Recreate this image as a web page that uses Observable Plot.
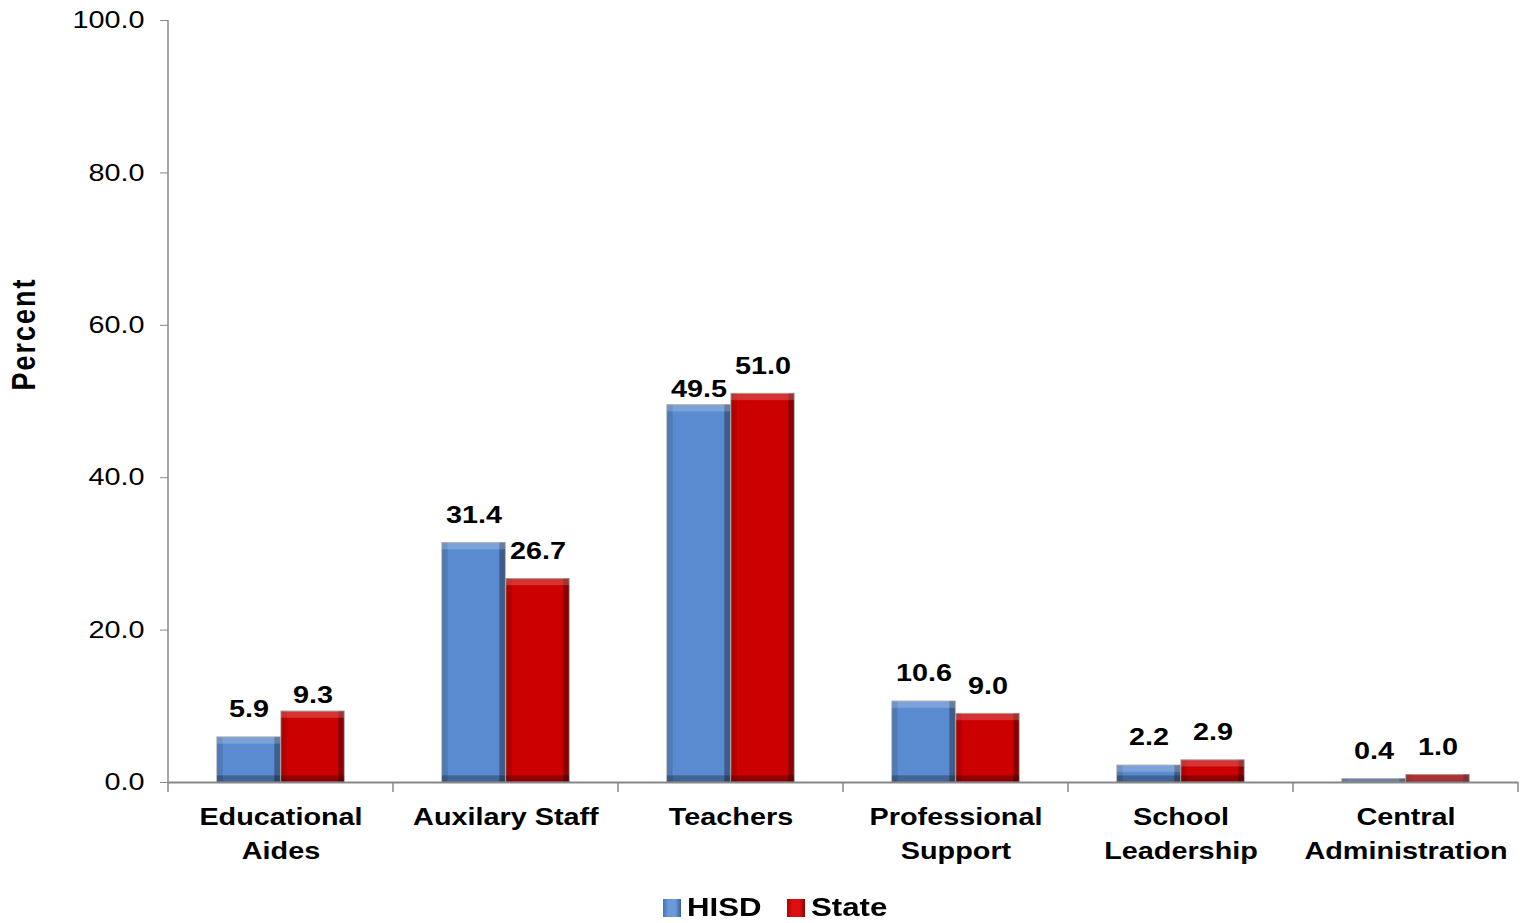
<!DOCTYPE html>
<html><head><meta charset="utf-8">
<script src="https://cdn.jsdelivr.net/npm/d3@7"></script>
<script src="https://cdn.jsdelivr.net/npm/@observablehq/plot@0.6"></script>
<style>
body{margin:0;background:#fff;font-family:"Liberation Sans",Arial,sans-serif;}
#legend{display:flex;justify-content:center;align-items:center;gap:25px;font-weight:bold;font-size:26px;height:31px;padding-left:23px;color:#000;}
#legend .item{display:flex;align-items:center;gap:6px;}
#legend .sw{width:18px;height:18px;display:inline-block;box-sizing:border-box;}
#legend .lbl{display:inline-block;transform-origin:0 50%;}
</style></head>
<body><div id="chart"></div><div id="legend"></div>
<script>
const categories = ["Educational\nAides","Auxilary Staff","Teachers","Professional\nSupport","School\nLeadership","Central\nAdministration"];
const series = ["HISD","State"];
const hisd = [5.9,31.4,49.5,10.6,2.2,0.4];
const state = [9.3,26.7,51.0,9.0,2.9,1.0];
const yTicks = [0,20,40,60,80,100];
const seriesColors = ["#5a8bd0","#cc0000"];
// labels that sit lower, close to their bar top, in the original
const nudged = ["Educational\nAides|State","Teachers|HISD"];

const data = categories.flatMap((c,i)=>[
  {category:c, series:"HISD", value:hisd[i]},
  {category:c, series:"State", value:state[i]}
]);
const isNudged = d => nudged.includes(d.category+"|"+d.series);
const fmt = d3.format(".1f");
const font = "'Liberation Sans', Arial, sans-serif";
const WIDE = 1.2; // the original lettering is horizontally stretched

const chart = Plot.plot({
  width:1527, height:892,
  marginLeft:168, marginRight:9, marginTop:20, marginBottom:110,
  style:{fontFamily:font, fontSize:"24px", color:"#000", background:"#fff", overflow:"visible"},
  fx:{domain:categories, padding:0, label:null},
  x:{domain:series, paddingInner:0.02, paddingOuter:0.76, axis:null},
  y:{domain:[0,100], label:null},
  color:{type:"ordinal", domain:series, range:seriesColors},
  marks:[
    Plot.axisY({ticks:yTicks, tickFormat:fmt, tickSize:8, tickPadding:16, fontSize:24, stroke:"#888", fill:"#000", label:null}),
    Plot.axisFx({anchor:"bottom", tickSize:0, tickPadding:18, fontSize:24, fontWeight:"bold", lineHeight:1.42, label:null, fill:"#000"}),
    Plot.barY(data, {fx:"category", x:"series", y:"value", fill:"series", stroke:"#9a9a9a", strokeWidth:1, strokeOpacity:0.7}),
    Plot.ruleY([0], {stroke:"#888", strokeWidth:1.8}),
    Plot.text(data.filter(d=>!isNudged(d)), {fx:"category", x:"series", y:"value", text:d=>fmt(d.value), dy:-28, fontSize:24, fontWeight:"bold", fill:"#000"}),
    Plot.text(data.filter(isNudged), {fx:"category", x:"series", y:"value", text:d=>fmt(d.value), dy:-16, fontSize:24, fontWeight:"bold", fill:"#000"})
  ]
});

const svg = d3.select(chart);

// bevel filter for the bars
const defs = svg.insert("defs", ":first-child");
const f = defs.append("filter").attr("id","bevel").attr("x","-5%").attr("y","-5%").attr("width","110%").attr("height","110%")
  .attr("color-interpolation-filters","sRGB");
function band(name, dx, dy){
  f.append("feOffset").attr("in","SourceAlpha").attr("dx",dx).attr("dy",dy).attr("result",name+"S");
  f.append("feComposite").attr("in","SourceAlpha").attr("in2",name+"S").attr("operator","out").attr("result",name);
}
band("top",0,7); band("bottom",0,-7); band("right",-6,0); band("left",6,0);
function tint(name, color, op){
  f.append("feFlood").attr("flood-color",color).attr("flood-opacity",op).attr("result",name+"F");
  f.append("feComposite").attr("in",name+"F").attr("in2",name).attr("operator","in").attr("result",name+"C");
}
tint("left","#000",0.12); tint("right","#000",0.32); tint("bottom","#000",0.28); tint("top","#fff",0.2);
const m = f.append("feMerge");
["SourceGraphic","leftC","rightC","bottomC","topC"].forEach(n=>m.append("feMergeNode").attr("in",n));
svg.selectAll("g[aria-label='bar'] rect").attr("filter","url(#bevel)");

// axis lines and category boundary ticks
const fx = chart.scale("fx");
const y = chart.scale("y");
const bw = fx.bandwidth;
const x0 = fx.apply(categories[0]);
const y0 = y.apply(0), yTop = y.apply(100);
const extra = svg.append("g").attr("stroke","#888").attr("stroke-width",1.5);
extra.append("line").attr("x1",x0).attr("x2",x0).attr("y1",yTop).attr("y2",y0+10);
categories.forEach(c=>{
  const xr = fx.apply(c)+bw;
  extra.append("line").attr("x1",xr).attr("x2",xr).attr("y1",y0).attr("y2",y0+10);
});
svg.append("text").attr("class","ylabel").attr("transform",`translate(26,${y.apply(58.8)}) rotate(-90)`)
  .attr("text-anchor","middle").attr("dominant-baseline","middle").attr("font-weight","bold").attr("font-size",27)
  .attr("letter-spacing",2).attr("font-family",font).attr("fill","#000").text("Percent");

document.getElementById("chart").appendChild(chart);

// stretch text horizontally about its anchor
function stretch(sel, s){
  sel.each(function(){
    const b = this.getBBox();
    const anchor = getComputedStyle(this).textAnchor;
    const cx = anchor === "end" ? b.x + b.width : anchor === "middle" ? b.x + b.width/2 : b.x;
    const t = this.getAttribute("transform") || "";
    this.setAttribute("transform", `${t} translate(${cx},0) scale(${s},1) translate(${-cx},0)`);
  });
}
stretch(svg.selectAll("g[aria-label='y-axis tick label'] text"), WIDE);
stretch(svg.selectAll("g[aria-label='fx-axis tick label'] text"), WIDE);
stretch(svg.selectAll("g[aria-label='text'] text"), WIDE);
// Percent: rotated, so widen across the text (its local y)
svg.select("text.ylabel").attr("transform", function(){ return this.getAttribute("transform") + ` scale(1,${WIDE})`; });

const legend = d3.select("#legend");
const legendGrad = ["linear-gradient(90deg,#4674b5,#6a9ad8 30%,#6a9ad8 70%,#34609a)","linear-gradient(90deg,#b00000,#dd1010 30%,#dd1010 70%,#880000)"];
series.forEach((s,i)=>{
  const it = legend.append("div").attr("class","item");
  it.append("span").attr("class","sw").style("background", legendGrad[i]);
  it.append("span").attr("class","lbl").text(s);
});
legend.selectAll(".lbl").each(function(){
  const w = this.getBoundingClientRect().width;
  this.style.transform = `scaleX(${WIDE})`;
  this.style.marginRight = `${w*(WIDE-1)}px`;
});
</script>
</body></html>
